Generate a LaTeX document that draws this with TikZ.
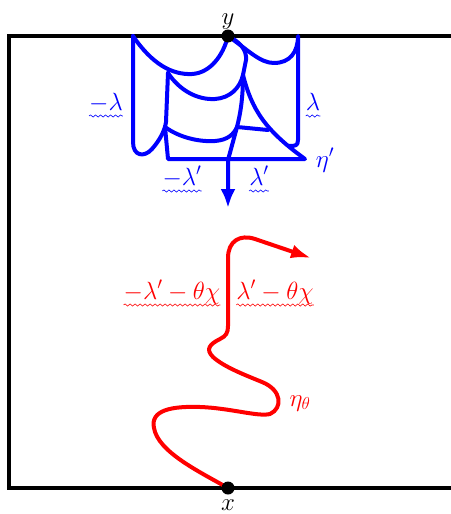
\documentclass[tikz,border=0pt]{standalone}
\usetikzlibrary{arrows.meta, decorations.pathmorphing}
\definecolor{flowblue}{RGB}{0,0,255}
\definecolor{flowred}{RGB}{255,0,0}
\tikzset{
  frame/.style = {line width=4pt, black},
  flow/.style  = {line width=4pt, flowblue, line join=round, line cap=round},
  eta/.style   = {line width=4pt, flowred, line cap=round},
  dot/.style   = {circle, fill=black, inner sep=0pt, minimum size=13pt},
  lab/.style   = {font=\fontsize{24}{28}\selectfont, inner sep=0pt, anchor=base},
  wave/.style  = {line width=0.6pt, decorate,
                  decoration={snake, amplitude=1.1pt, segment length=5pt}},
}

\begin{document}
\begin{tikzpicture}[x=1pt, y=-1pt]
  \useasboundingbox (0,0) rectangle (450,514);
  \coordinate (y0) at (228,36);
  \coordinate (x0) at (228,488);
  % domain boundary
  \draw[frame] (456,36) -- (9,36) -- (9,488) -- (456,488);
  % flow lines of eta'
  \draw[flow] (133,36) -- (133,142) .. controls (133,156) and (144,158) .. (152,149)
    .. controls (160,140) and (165,130) .. (166,122) -- (168,73);
  \draw[flow] (133,36) .. controls (152,64) and (172,75) .. (192,74)
    .. controls (210,73) and (223,56) .. (y0);
  \draw[flow] (168,73) .. controls (180,91) and (198,100) .. (215,99)
    .. controls (230,98) and (240,88) .. (243,75);
  \draw[flow] (y0) .. controls (240,42) and (247,50) .. (246,60) -- (243,75);
  \draw[flow] (y0) .. controls (248,50) and (260,63) .. (274,63)
    .. controls (290,63) and (298,52) .. (298,36) -- (298,140)
    .. controls (298,146) and (295,146) .. (289,146);
  \draw[flow] (243,75) .. controls (252,110) and (265,130) .. (305,159)
    -- (168,159) -- (165,127);
  \draw[flow] (165,127) .. controls (180,138) and (200,142) .. (215,141)
    .. controls (228,140) and (234,134) .. (237,127);
  \draw[flow] (243,75) .. controls (243,100) and (240,115) .. (237,127) -- (268,130);
  \draw[flow, -{Latex[length=19pt, width=15pt]}] (237,127) -- (228,160) -- (228,208);
  % eta_theta
  \draw[eta, -{Latex[length=20pt, width=14pt]}] (x0)
    .. controls (200,472) and (158,452) .. (154,428)
    .. controls (150,410) and (172,406) .. (200,407)
    .. controls (230,408) and (258,417) .. (270,414)
    .. controls (283,408) and (282,390) .. (262,382)
    .. controls (245,375) and (224,367) .. (213,357)
    .. controls (205,349) and (210,344) .. (220,339)
    .. controls (226,336) and (228,333) .. (228,326) -- (228,258)
    .. controls (228,241) and (240,234) .. (255,239) -- (311,258);
  % end points
  \node[dot] (ydot) at (y0) {};
  \node[dot] (xdot) at (x0) {};
  \node[lab] (ylab) at (228,24) {$y$};
  \node[lab] (xlab) at (228,510) {$x$};
  % boundary values
  \node[lab, text=flowblue] (lamL) at (106,110) {$-\lambda$};
  \node[lab, text=flowblue] (lamR) at (313,110) {$\lambda$};
  \node[lab, text=flowblue] (lampL) at (182,185) {$-\lambda'$};
  \node[lab, text=flowblue] (lampR) at (259,185) {$\lambda'$};
  \node[lab, text=flowblue] (etap) at (325,167) {$\eta'$};
  \node[lab, text=flowred] (thL) at (172,299) {$-\lambda'-\theta\chi$};
  \node[lab, text=flowred] (thR) at (275,299) {$\lambda'-\theta\chi$};
  \node[lab, text=flowred] (etat) at (300,406) {$\eta_\theta$};
  % wavy underlines
  \foreach \n/\c in {lamL/flowblue, lamR/flowblue, lampL/flowblue, lampR/flowblue,
                     thL/flowred, thR/flowred}
    \draw[wave, \c] ([yshift=-6pt]\n.base west) -- ([yshift=-6pt]\n.base east);
\end{tikzpicture}
\end{document}
